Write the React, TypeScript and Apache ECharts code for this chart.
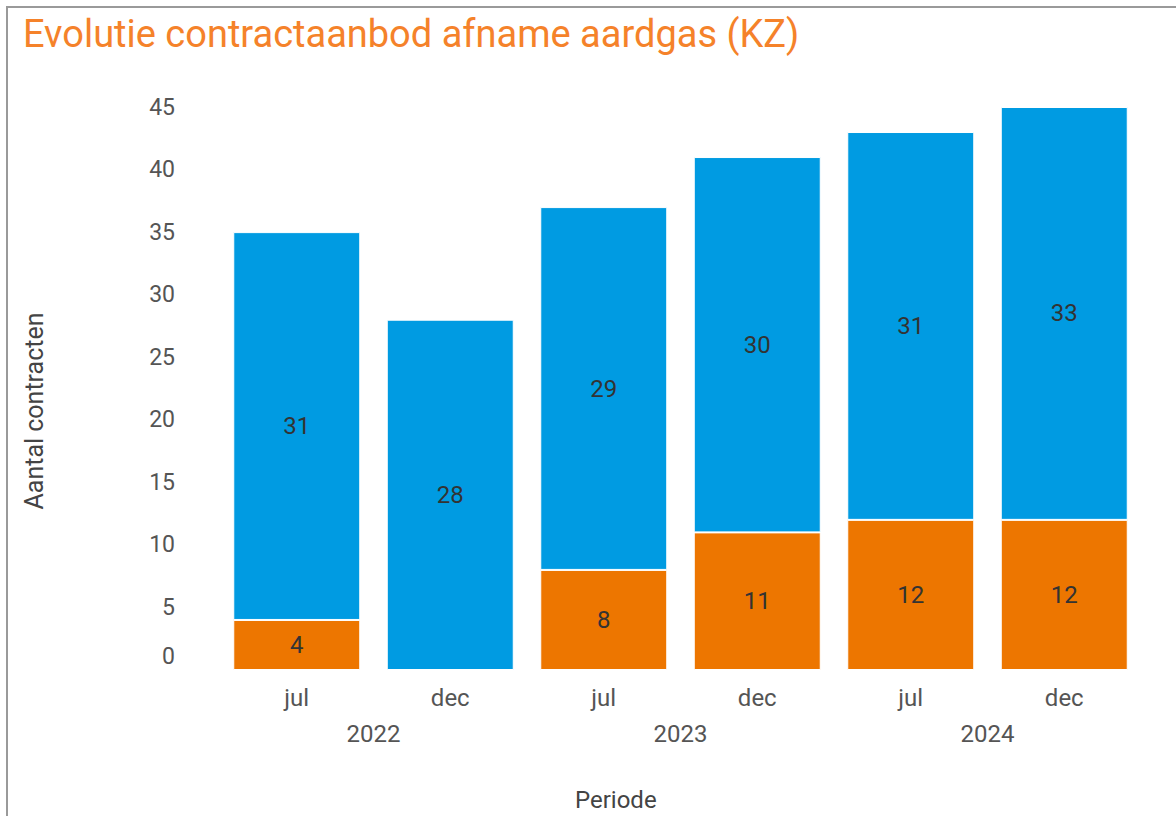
import React, { useEffect, useRef } from "react";
import * as echarts from "echarts";

const months = ["jul", "dec", "jul", "dec", "jul", "dec"];
const years = ["2022", "2023", "2024"];
const orangeValues = [4, 0, 8, 11, 12, 12];
const blueValues = [31, 28, 29, 30, 31, 33];
const yTicks = { min: 0, max: 45, interval: 5 };

const FONT = "Roboto, 'Noto Sans', sans-serif";

export default function App() {
  const ref = useRef<HTMLDivElement>(null);
  useEffect(() => {
    document.body.style.margin = "0";
    const chart = echarts.init(ref.current!, null, { renderer: "svg" });
    chart.setOption({
      animation: false,
      backgroundColor: "#fff",
      textStyle: { fontFamily: FONT },
      title: {
        text: "Evolutie contractaanbod afname aardgas (KZ)",
        left: 18,
        top: 10,
        textStyle: { color: "#F5822A", fontSize: 38, fontWeight: "normal", fontFamily: FONT },
      },
      grid: { left: 220, right: 35, top: 107, bottom: 146 },
      xAxis: [
        {
          type: "category",
          data: months,
          axisLine: { show: false },
          axisTick: { show: false },
          axisLabel: { color: "#555", fontSize: 24, margin: 16, fontFamily: FONT },
        },
        {
          type: "category",
          data: years,
          position: "bottom",
          offset: 36,
          axisLine: { show: false },
          axisTick: { show: false },
          axisLabel: { color: "#555", fontSize: 24, margin: 16, fontFamily: FONT },
        },
      ],
      yAxis: {
        type: "value",
        min: yTicks.min,
        max: yTicks.max,
        interval: yTicks.interval,
        splitLine: { show: false },
        axisLine: { show: false },
        axisTick: { show: false },
        axisLabel: {
          color: "#555",
          fontSize: 23,
          margin: 45,
          fontFamily: FONT,
          formatter: (v: number) => (v === 0 ? "{z|0}" : String(v)),
          rich: { z: { fontSize: 23, color: "#555", padding: [0, 0, 28, 0], fontFamily: FONT } },
        },
      },
      graphic: [
        {
          type: "text",
          x: 575,
          y: 800,
          style: { text: "Periode", fontSize: 24, fill: "#444", fontFamily: FONT, verticalAlign: "middle" },
        },
        {
          type: "text",
          x: 34,
          y: 411,
          rotation: Math.PI / 2,
          style: {
            text: "Aantal contracten",
            fontSize: 25,
            fill: "#444",
            fontFamily: FONT,
            align: "center",
            verticalAlign: "middle",
          },
        },
      ],
      series: [
        {
          type: "bar",
          stack: "total",
          data: orangeValues,
          barWidth: 127,
          itemStyle: { color: "#ED7600", borderColor: "#fff", borderWidth: 1 },
          label: {
            show: true,
            position: "inside",
            color: "#333",
            fontSize: 24,
            fontFamily: FONT,
            formatter: (p: any) => (p.value ? String(p.value) : ""),
          },
        },
        {
          type: "bar",
          stack: "total",
          data: blueValues,
          barWidth: 127,
          itemStyle: { color: "#009BE2", borderColor: "#fff", borderWidth: 1 },
          label: {
            show: true,
            position: "inside",
            color: "#333",
            fontSize: 24,
            fontFamily: FONT,
          },
        },
      ],
    });
    return () => chart.dispose();
  }, []);
  return (
    <div style={{ position: "relative", width: 1176, height: 816 }}>
      <div ref={ref} style={{ position: "absolute", left: 0, top: 0, width: 1176, height: 816 }} />
      <div
        style={{
          position: "absolute",
          left: 6,
          top: 6,
          width: 1170,
          height: 810,
          borderLeft: "2px solid #9a9a9a",
          borderTop: "2px solid #9a9a9a",
          boxSizing: "border-box",
          pointerEvents: "none",
        }}
      />
    </div>
  );
}
